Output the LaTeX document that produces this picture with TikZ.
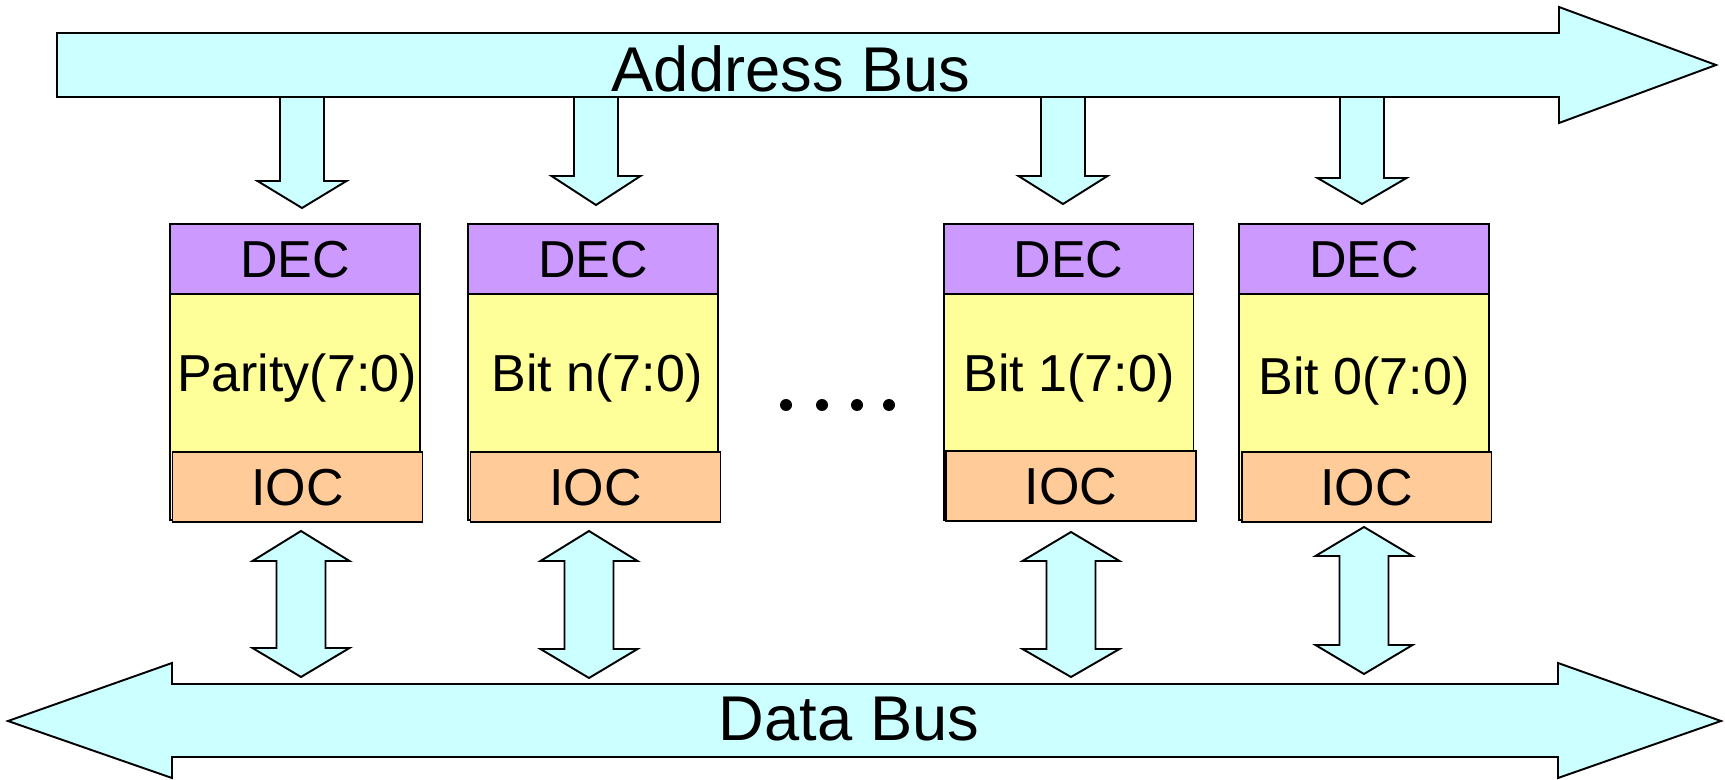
\documentclass[tikz,border=0pt]{standalone}
\usepackage{fontspec}
\setmainfont{Liberation Sans}
\definecolor{busfill}{HTML}{CCFFFF}
\definecolor{decfill}{HTML}{CC99FF}
\definecolor{memfill}{HTML}{FFFF99}
\definecolor{iocfill}{HTML}{FFCC99}
\tikzset{
  outline/.style={draw=black, line width=1.1pt, line join=miter},
  busshape/.style={outline, fill=busfill},
  cellfont/.style={font=\fontsize{29.6}{34}\selectfont},
  cell/.style={outline, rectangle, inner sep=0pt, minimum width=5cm,
    text height=21.2pt, text depth=0pt, cellfont},
  deccell/.style={cell, fill=decfill, minimum height=1.4cm},
  memcell/.style={cell, fill=memfill, minimum height=4.54cm},
  ioccell/.style={cell, fill=iocfill, minimum height=1.4cm},
  cellname/.style={inner sep=0pt, text height=21.2pt, text depth=0pt, cellfont},
  buslabel/.style={inner sep=0pt, text height=25.8pt, text depth=0pt,
    font=\fontsize{36}{40}\selectfont},
  dotmark/.style={circle, fill=black, inner sep=0pt, minimum size=0.24cm}
}
% block arrow from the address bus down to a decoder: centre x, head base y, tip y
\newcommand\addrarrow[3]{%
  \draw[busshape] ({#1-22},97) -- ({#1-22},#2) -- ({#1-44.5},#2) -- (#1,#3)
    -- ({#1+44.5},#2) -- ({#1+22},#2) -- ({#1+22},97);}
% two-headed block arrow between an IOC and the data bus:
% centre x, top tip, upper head base, lower head base, bottom tip
\newcommand\dataarrow[5]{%
  \draw[busshape] (#1,#2) -- ({#1+48.5},#3) -- ({#1+24.5},#3) -- ({#1+24.5},#4)
    -- ({#1+48.5},#4) -- (#1,#5) -- ({#1-48.5},#4) -- ({#1-24.5},#4)
    -- ({#1-24.5},#3) -- ({#1-48.5},#3) -- cycle;}
\begin{document}
\begin{tikzpicture}[x=0.02cm, y=-0.02cm]
\useasboundingbox (0,0) rectangle (1725,780);

% address bus taps
\addrarrow{302}{181}{208}
\addrarrow{596}{176}{205}
\addrarrow{1063}{176}{204}
\addrarrow{1362}{178}{204}

% address bus
\draw[busshape] (57,33) -- (1559,33) -- (1559,7) -- (1716,65) -- (1559,123)
  -- (1559,97) -- (57,97) -- cycle;
\node[buslabel] (abus) at (791,68.5) {Address Bus};

% memory slices
\node[memcell] (mem1) at (295,406.5) {};
\node[deccell] (dec1) at (295,259) {DEC};
\node[ioccell] (ioc1) at (297.5,487) {IOC};
\node[cellname] (lbl1) at (297,373) {Parity(7:0)};

\node[memcell] (mem2) at (593,406.5) {};
\node[deccell] (dec2) at (593,259) {DEC};
\node[ioccell] (ioc2) at (595.5,487) {IOC};
\node[cellname] (lbl2) at (597,373) {Bit n(7:0)};

\node[memcell] (mem3) at (1068.5,406.5) {};
\node[deccell] (dec3) at (1068.5,259) {DEC};
\node[ioccell] (ioc3) at (1071,486) {IOC};
\node[cellname] (lbl3) at (1069,373) {Bit 1(7:0)};

\node[memcell] (mem4) at (1364,406.5) {};
\node[deccell] (dec4) at (1364,259) {DEC};
\node[ioccell] (ioc4) at (1366.5,487) {IOC};
\node[cellname] (lbl4) at (1364,376) {Bit 0(7:0)};

% ellipsis between the slices
\node[dotmark] (d1) at (786,405) {};
\node[dotmark] (d2) at (822,405) {};
\node[dotmark] (d3) at (857,405) {};
\node[dotmark] (d4) at (889,405) {};

% data bus links
\dataarrow{301}{531}{561}{648}{677}
\dataarrow{589}{531}{561}{649}{678}
\dataarrow{1071}{532}{561}{649}{677}
\dataarrow{1364}{527}{556}{645}{674}

% data bus
\draw[busshape] (8,721) -- (172,663) -- (172,684) -- (1558,684) -- (1558,663)
  -- (1721,721) -- (1558,778) -- (1558,757) -- (172,757) -- (172,778) -- cycle;
\node[buslabel] (dbus) at (849,717.5) {Data Bus};
\end{tikzpicture}
\end{document}
